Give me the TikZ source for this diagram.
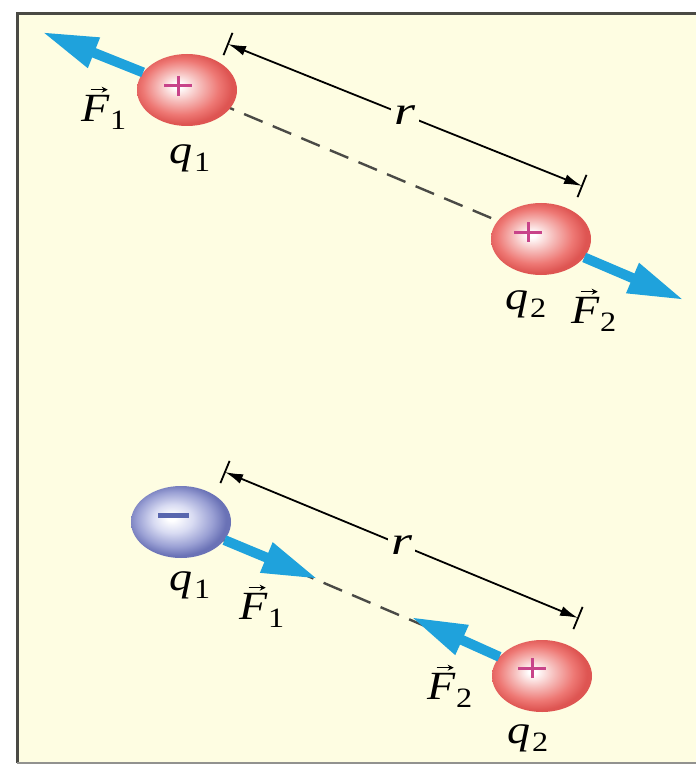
\documentclass[tikz,border=0pt]{standalone}
\usepackage{fontspec}
\setmainfont{Liberation Serif}
\usetikzlibrary{arrows.meta,shapes.geometric,calc}
\definecolor{bg}{HTML}{FEFDE2}
\definecolor{framec}{HTML}{4A4A44}
\definecolor{fblue}{HTML}{1FA2DC}
\definecolor{pinkc}{HTML}{F6BEBC}
\definecolor{redm}{HTML}{EE7874}
\definecolor{rede}{HTML}{DE5552}
\definecolor{bluel}{HTML}{D8DBF2}
\definecolor{bluem}{HTML}{9AA0D4}
\definecolor{bluee}{HTML}{6A72B6}
\definecolor{plusc}{HTML}{C8448A}
\definecolor{minusc}{HTML}{5866AE}
\definecolor{dashc}{HTML}{4A4A46}
\pgfdeclareradialshading{redball}{\pgfpoint{-5bp}{3bp}}{color(0bp)=(white);color(2bp)=(white);color(10bp)=(pinkc);color(19bp)=(redm);color(25bp)=(rede);color(50bp)=(rede)}
\pgfdeclareradialshading{blueball}{\pgfpoint{-5bp}{3bp}}{color(0bp)=(white);color(2bp)=(white);color(10bp)=(bluel);color(19bp)=(bluem);color(25bp)=(bluee);color(50bp)=(bluee)}
\newcommand{\wide}[1]{\scalebox{1.15}[1]{#1}}
\newcommand{\qlab}[1]{\wide{{\itshape q}\kern1pt\raisebox{-0.2em}{\fontsize{28}{28}\selectfont #1}}}
\newcommand{\flab}[1]{\wide{{\itshape F}\raisebox{-0.2em}{\fontsize{28}{28}\selectfont #1}}}
\tikzset{
  posball/.style={ellipse, minimum width=100pt, minimum height=72pt, inner sep=0pt, shading=redball},
  negball/.style={ellipse, minimum width=100pt, minimum height=72pt, inner sep=0pt, shading=blueball},
  plussign/.style={plusc, line width=3pt},
  minussign/.style={minusc, line width=5pt},
  force/.style={fblue, line width=10pt, -{Triangle[length=56pt,width=30pt]}},
  dimline/.style={black, line width=1.8pt, {Latex[length=18pt,width=10pt]}-{Latex[length=18pt,width=10pt]}},
  dimtick/.style={black, line width=1.8pt},
  dashln/.style={dashc, line width=2.4pt, dash pattern=on 20pt off 11pt},
  vecarr/.style={black, line width=1.4pt, -{Stealth[length=6pt,width=6pt]}},
  lab/.style={font=\fontsize{40}{44}\selectfont, inner sep=0pt},
  rlab/.style={font=\fontsize{40}{44}\selectfont\itshape, fill=bg, inner sep=3pt}
}
\begin{document}
\begin{tikzpicture}[x=1pt,y=-1pt]
\useasboundingbox (0,0) rectangle (695,767);
\fill[white] (0,0) rectangle (695,767);
\fill[bg] (17,14) rectangle (710,763);
\draw[framec, line width=3pt] (17,763) -- (17,14) -- (710,14);
\draw[framec!60, line width=2pt] (17,763) -- (710,763);

% ---------- top ----------
\coordinate (c1a) at (187,90);
\coordinate (c2a) at (541,239);
\coordinate (tf1a) at (42,32);
\coordinate (tf2a) at (684,300);
\coordinate (da1) at (228,44);
\coordinate (da2) at (582,186);
\draw[dashln] (c1a) -- (c2a);
\node[posball] (q1a) at (c1a) {};
\node[posball] (q2a) at (c2a) {};
\draw[plussign] (164,86) -- (192,86) (178,76) -- (178,96);
\draw[plussign] (514,232) -- (542,232) (528,222) -- (528,242);
\draw[force] (q1a) -- (tf1a);
\draw[force] (q2a) -- (tf2a);
\draw[dimline] (da1) -- (da2) node[rlab, midway] (ra) {\scalebox{1.35}[1]{r}};
\draw[dimtick] ($(da1)!12pt!90:(da2)$) -- ($(da1)!12pt!-90:(da2)$);
\draw[dimtick] ($(da2)!12pt!90:(da1)$) -- ($(da2)!12pt!-90:(da1)$);
\node[lab] (lf1a) at (104,112) {\flab{1}};
\node[lab] (lq1a) at (190,158) {\qlab{1}};
\node[lab] (lq2a) at (526,304) {\qlab{2}};
\node[lab] (lf2a) at (594,314) {\flab{2}};
\draw[vecarr] ([xshift=9pt,yshift=5pt]lf1a.north west) -- ++(17,0);
\draw[vecarr] ([xshift=9pt,yshift=5pt]lf2a.north west) -- ++(17,0);

% ---------- bottom ----------
\coordinate (c1b) at (181,522);
\coordinate (c2b) at (542,676);
\coordinate (tf1b) at (318,579);
\coordinate (tf2b) at (411,617);
\coordinate (db1) at (225,472);
\coordinate (db2) at (578,618);
\draw[dashln] (c1b) -- (c2b);
\node[negball] (q1b) at (c1b) {};
\node[posball] (q2b) at (c2b) {};
\draw[minussign] (158,515) -- (189,515);
\draw[plussign] (518,668) -- (546,668) (532,658) -- (532,678);
\draw[force] (q1b) -- (tf1b);
\draw[force] (q2b) -- (tf2b);
\draw[dimline] (db1) -- (db2) node[rlab, midway] (rb) {\scalebox{1.35}[1]{r}};
\draw[dimtick] ($(db1)!12pt!90:(db2)$) -- ($(db1)!12pt!-90:(db2)$);
\draw[dimtick] ($(db2)!12pt!90:(db1)$) -- ($(db2)!12pt!-90:(db1)$);
\node[lab] (lq1b) at (190,585) {\qlab{1}};
\node[lab] (lf1b) at (262,610) {\flab{1}};
\node[lab] (lf2b) at (450,690) {\flab{2}};
\node[lab] (lq2b) at (528,738) {\qlab{2}};
\draw[vecarr] ([xshift=9pt,yshift=5pt]lf1b.north west) -- ++(17,0);
\draw[vecarr] ([xshift=9pt,yshift=5pt]lf2b.north west) -- ++(17,0);
\end{tikzpicture}
\end{document}
